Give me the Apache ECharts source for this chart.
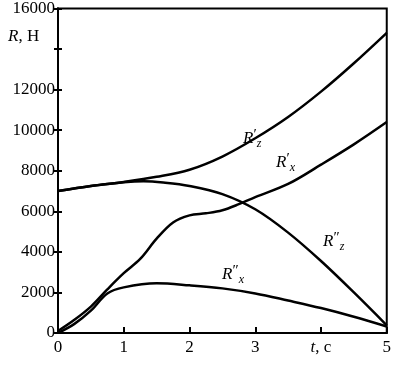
<!DOCTYPE html>
<html>
<head>
<meta charset="utf-8">
<script src="https://cdn.jsdelivr.net/npm/echarts@6/dist/echarts.min.js"></script>
<style>
  html, body { margin: 0; padding: 0; background: #fff; }
  #chart { width: 394px; height: 365px; }
</style>
</head>
<body>
<div id="chart"></div>
<script>
// time, c
const tRzPrime = [0, 0.5, 1, 1.5, 2, 2.5, 3, 3.5, 4, 4.5, 5];
const rzPrime = [7000, 7250, 7450, 7700, 8050, 8700, 9600, 10650, 11900, 13300, 14800];

const tRxPrime = [0, 0.25, 0.5, 0.75, 1, 1.25, 1.5, 1.75, 2, 2.25, 2.5, 2.75, 3, 3.5, 4, 4.5, 5];
const rxPrime = [100, 650, 1300, 2150, 2950, 3650, 4650, 5450, 5800, 5900, 6050, 6350, 6700, 7350, 8300, 9300, 10400];

const tRzSecond = [0, 0.5, 1, 1.3, 1.6, 2, 2.5, 3, 3.5, 4, 4.5, 5];
const rzSecond = [7000, 7250, 7430, 7480, 7420, 7250, 6850, 6100, 4950, 3550, 2000, 380];

const tRxSecond = [0, 0.25, 0.5, 0.75, 1, 1.5, 2, 2.5, 3, 3.5, 4, 4.5, 5];
const rxSecond = [0, 450, 1100, 1950, 2250, 2450, 2350, 2200, 1950, 1600, 1230, 800, 320];

const yTicks = [0, 2000, 4000, 6000, 8000, 10000, 12000, 16000];

const zip = (xs, ys) => xs.map((x, i) => [x, ys[i]]);

const dom = document.getElementById('chart');
const myChart = echarts.init(dom);

const font = 'Liberation Serif';
const lineStyle = { color: '#000', width: 2.5 };

const curve = (name, data) => ({
  name: name,
  type: 'line',
  data: data,
  smooth: 0.35,
  symbol: 'none',
  lineStyle: lineStyle,
  silent: true,
});

function richLabel() {
  return {
    i: { fontStyle: 'italic', fontFamily: font, fontSize: 17, fill: '#000' },
    p: { fontFamily: font, fontSize: 15, fill: '#000', verticalAlign: 'top', padding: [0, 0, 6, 0] },
    s: { fontStyle: 'italic', fontFamily: font, fontSize: 12, fill: '#000', padding: [10, 0, 0, 0] },
  };
}

const option = {
  backgroundColor: '#fff',
  animation: false,
  grid: {
    left: 58,
    right: 6,
    top: 6,
    bottom: 32,
    show: true,
    borderColor: '#000',
    borderWidth: 2,
  },
  xAxis: {
    type: 'value',
    min: 0,
    max: 5,
    interval: 1,
    axisLine: { show: true, lineStyle: { color: '#000', width: 2 } },
    axisTick: { show: true, inside: true, length: 6, lineStyle: { color: '#000', width: 2 } },
    splitLine: { show: false },
    axisLabel: {
      color: '#000',
      fontFamily: font,
      fontSize: 17,
      margin: 6,
      formatter: (v) => (v === 4 ? '{i|t}, с' : String(v)),
      rich: { i: { fontStyle: 'italic', fontFamily: font, fontSize: 17, color: '#000' } },
    },
  },
  yAxis: [
    {
      type: 'value',
      min: 0,
      max: 16000,
      interval: 2000,
      axisLine: { show: true, lineStyle: { color: '#000', width: 2 } },
      axisTick: { show: true, inside: false, length: 4, lineStyle: { color: '#000', width: 2 } },
      splitLine: { show: false },
      axisLabel: {
        color: '#000',
        fontFamily: font,
        fontSize: 17,
        margin: 3,
        formatter: (v) => (yTicks.indexOf(v) >= 0 ? String(v) : ''),
      },
    },
    {
      // inner half of the "+" ticks
      type: 'value',
      position: 'left',
      offset: 0,
      min: 0,
      max: 16000,
      interval: 2000,
      axisLine: { show: true, onZero: false, lineStyle: { color: '#000', width: 2 } },
      axisTick: { show: true, inside: true, length: 4, lineStyle: { color: '#000', width: 2 } },
      splitLine: { show: false },
      axisLabel: { show: false },
    },
  ],
  graphic: [
    {
      type: 'text',
      left: 8,
      top: 28,
      style: {
        text: '{i|R}, Н',
        font: '17px "Liberation Serif"',
        fill: '#000',
        rich: { i: { fontStyle: 'italic', fontFamily: font, fontSize: 17, fill: '#000' } },
      },
    },
    { type: 'text', left: 243, top: 128, style: { text: '{i|R}{p|′}{s|z}', rich: richLabel() } },
    { type: 'text', left: 276, top: 152, style: { text: '{i|R}{p|′}{s|x}', rich: richLabel() } },
    { type: 'text', left: 323, top: 231, style: { text: '{i|R}{p|″}{s|z}', rich: richLabel() } },
    { type: 'text', left: 222, top: 264, style: { text: '{i|R}{p|″}{s|x}', rich: richLabel() } },
  ],
  series: [
    curve("R'z", zip(tRzPrime, rzPrime)),
    curve("R'x", zip(tRxPrime, rxPrime)),
    curve("R''z", zip(tRzSecond, rzSecond)),
    curve("R''x", zip(tRxSecond, rxSecond)),
  ],
};

myChart.setOption(option);
</script>
</body>
</html>
